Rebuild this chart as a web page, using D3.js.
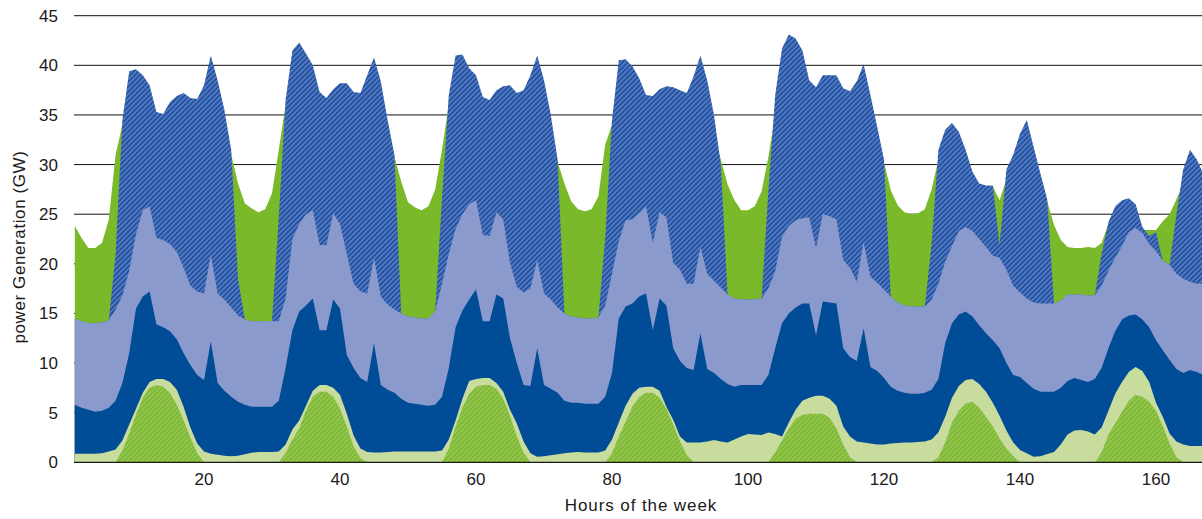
<!DOCTYPE html>
<html>
<head>
<meta charset="utf-8">
<script src="https://cdn.jsdelivr.net/npm/d3@7"></script>
<style>
  body { margin: 0; background: #fff; }
  text { font-family: "Liberation Sans", Arial, sans-serif; fill: #1a1a1a; }
</style>
</head>
<body>
<div id="grafico"></div>
<script>
// Valores, una fila por dia (24 horas)
// Todos son el borde superior de cada capa (GW), no incrementos

// Capa verde palida (abajo del todo)
const lightGreenTop = [
  0.85, 0.85, 0.85, 0.85, 0.9, 1.1, 1.3, 2.2, 3.8, 5.4, 7.0, 8.1, 8.4, 8.4, 8.1, 7.3, 5.6, 3.5, 1.9, 1.1, 0.85, 0.75, 0.65, 0.6,
  0.65, 0.8, 0.95, 1.05, 1.05, 1.05, 1.1, 1.8, 3.3, 4.2, 5.7, 7.2, 7.8, 7.8, 7.5, 6.8, 4.9, 2.7, 1.4, 1.05, 1.0, 1.0, 1.05, 1.1,
  1.1, 1.1, 1.1, 1.1, 1.1, 1.1, 1.2, 2.3, 4.2, 6.4, 8.2, 8.4, 8.5, 8.5, 8.0, 7.1, 5.3, 3.9, 2.1, 0.9, 0.57, 0.6, 0.7, 0.8,
  0.9, 1.0, 1.05, 1.0, 1.0, 1.0, 1.2, 2.3, 4.0, 5.7, 6.9, 7.5, 7.6, 7.6, 7.2, 5.6, 4.3, 2.6, 2.0, 2.0, 2.0, 2.1, 2.25, 2.1,
  2.0, 2.3, 2.6, 2.85, 2.8, 2.75, 3.0, 2.85, 2.6, 4.0, 5.3, 6.2, 6.5, 6.7, 6.7, 6.4, 5.7, 3.6, 2.6, 2.1, 2.0, 1.9, 1.8, 1.8,
  1.9, 1.95, 2.0, 2.0, 2.05, 2.1, 2.3, 3.0, 4.6, 6.5, 7.7, 8.3, 8.4, 7.9, 7.1, 6.0, 4.7, 3.2, 2.0, 1.24, 0.9, 0.55, 0.6, 0.84,
  1.05, 1.8, 2.8, 3.2, 3.25, 3.1, 2.8, 3.5, 5.2, 6.9, 8.1, 9.1, 9.6, 9.2, 8.1, 6.0, 4.6, 2.9, 2.1, 1.8, 1.65, 1.65, 1.65, 1.65
];

// Solar (rayado verde, se pinta encima de la capa palida)
const solarTop = [
  0, 0, 0, 0, 0, 0, 0, 1.2, 2.9, 4.8, 6.5, 7.5, 7.8, 7.6, 7.0, 5.8, 4.2, 2.5, 0.9, 0, 0, 0, 0, 0,
  0, 0, 0, 0, 0, 0, 0, 0.9, 2.3, 3.4, 5.2, 6.6, 7.1, 7.1, 6.6, 5.4, 3.6, 1.6, 0.4, 0, 0, 0, 0, 0,
  0, 0, 0, 0, 0, 0, 0, 1.4, 3.6, 5.5, 6.9, 7.6, 7.8, 7.8, 7.4, 6.4, 4.7, 2.6, 1.0, 0, 0, 0, 0, 0,
  0, 0, 0, 0, 0, 0, 0, 0.9, 2.6, 4.1, 5.6, 6.6, 7.0, 7.0, 6.5, 5.4, 3.8, 2.1, 0.7, 0, 0, 0, 0, 0,
  0, 0, 0, 0, 0, 0, 0, 1.0, 2.2, 3.4, 4.4, 4.8, 4.9, 4.9, 4.9, 4.5, 3.4, 1.8, 0.5, 0, 0, 0, 0, 0,
  0, 0, 0, 0, 0, 0, 0, 0.5, 2.0, 4.0, 5.2, 5.9, 6.1, 5.5, 4.6, 3.6, 2.4, 1.4, 0.6, 0, 0, 0, 0, 0,
  0, 0, 0, 0, 0, 0, 0, 1.0, 2.8, 3.9, 5.1, 6.2, 6.8, 6.6, 6.1, 5.2, 3.6, 1.9, 0.5, 0, 0, 0, 0, 0
];

// Azul oscuro
const darkBlueTop = [
  5.8, 5.5, 5.3, 5.1, 5.2, 5.5, 6.2, 8.0, 11.0, 15.5, 16.7, 17.2, 13.9, 13.6, 13.2, 12.4, 11.0, 9.8, 8.8, 8.3, 12.2, 8.0, 7.2, 6.6,
  6.1, 5.8, 5.6, 5.6, 5.6, 5.6, 6.2, 9.5, 13.3, 15.2, 15.8, 16.5, 13.3, 13.3, 16.4, 15.5, 10.8, 9.5, 8.5, 8.1, 12.0, 7.8, 7.3, 7.0,
  6.4, 6.0, 5.9, 5.8, 5.7, 5.8, 6.6, 9.5, 13.6, 15.3, 16.4, 17.4, 14.2, 14.2, 16.9, 16.5, 12.5, 10.0, 7.8, 7.7, 11.5, 7.8, 7.4, 7.0,
  6.2, 6.0, 6.0, 5.9, 5.9, 5.9, 6.6, 9.0, 14.5, 15.7, 16.0, 16.7, 17.0, 13.3, 16.5, 15.8, 11.5, 10.2, 9.5, 9.3, 13.0, 9.4, 9.0, 8.4,
  7.9, 7.6, 7.8, 7.8, 7.8, 7.8, 8.8, 11.5, 14.0, 15.0, 15.6, 16.0, 16.0, 12.8, 16.2, 16.1, 16.0, 11.5, 10.6, 10.2, 13.5, 9.6, 9.2, 8.5,
  7.6, 7.2, 7.0, 6.9, 6.9, 7.0, 7.3, 8.4, 12.0, 14.0, 14.9, 15.2, 14.7, 13.8, 13.0, 12.3, 11.5, 10.0, 8.8, 8.6, 8.0, 7.4, 7.1, 7.1,
  7.1, 7.5, 8.2, 8.5, 8.3, 8.1, 8.4, 9.5, 11.5, 13.2, 14.4, 14.8, 14.9, 14.4, 13.6, 12.3, 11.3, 10.3, 9.4, 9.0, 9.3, 9.1, 8.8, 8.8
];

// Lavanda
const lavenderTop = [
  14.5, 14.2, 14.0, 14.0, 14.1, 14.3, 15.4, 16.8, 19.3, 23.0, 25.4, 25.8, 22.6, 22.4, 22.0, 21.2, 19.6, 17.8, 17.2, 17.0, 20.9, 17.0, 16.4, 15.6,
  14.8, 14.4, 14.2, 14.2, 14.2, 14.2, 14.2, 16.5, 22.5, 24.0, 25.0, 25.4, 21.9, 21.9, 25.1, 24.0, 21.0, 18.0, 17.2, 17.0, 20.6, 16.7, 15.9, 15.4,
  15.0, 14.7, 14.6, 14.5, 14.5, 15.2, 18.0, 21.0, 23.5, 25.0, 26.0, 26.4, 22.9, 22.8, 25.2, 24.5, 20.1, 17.7, 17.1, 17.5, 20.4, 17.0, 16.4, 15.6,
  15.0, 14.7, 14.6, 14.5, 14.5, 14.6, 15.8, 19.0, 22.3, 24.4, 24.5, 25.1, 25.8, 22.1, 25.2, 24.7, 20.1, 19.4, 18.0, 18.0, 21.7, 19.0, 18.3, 17.6,
  16.9, 16.5, 16.4, 16.4, 16.4, 16.5, 17.5, 19.3, 22.7, 23.8, 24.4, 24.6, 24.7, 21.6, 25.0, 24.8, 24.5, 20.4, 19.6, 18.2, 22.2, 18.7, 18.1, 17.4,
  16.7, 16.1, 15.8, 15.7, 15.7, 15.7, 16.4, 18.0, 20.2, 21.8, 23.3, 23.7, 23.3, 22.5, 21.7, 20.8, 20.6, 19.4, 17.8, 17.1, 16.5, 16.1, 16.0, 16.0,
  16.0, 16.3, 16.9, 16.9, 16.9, 16.8, 16.8, 17.8, 19.3, 20.6, 21.8, 23.2, 23.6, 23.1, 22.0, 21.3, 20.3, 19.9, 19.0, 18.5, 18.2, 18.0, 18.0, 18.0
];

// Verde intenso (solo se ve por la noche, el rayado azul lo tapa de dia)
const greenTop = [
  23.8, 22.6, 21.6, 21.6, 22.1, 24.5, 31.0, 34.0, 35, 35, 35, 34, 33, 33, 33, 33, 33, 33, 33, 34, 35, 35, 33, 31.0,
  28.1, 26.1, 25.6, 25.2, 25.5, 27.1, 31.5, 36.0, 36, 36, 36, 35, 34, 34, 34, 34, 34, 34, 34, 34, 34, 34, 33, 30.8,
  28.3, 26.2, 25.7, 25.4, 25.8, 27.5, 31.5, 36.0, 36, 36, 36, 35, 34, 34, 34, 34, 34, 34, 34, 34, 34, 34, 33, 30.3,
  28.1, 26.3, 25.5, 25.3, 25.5, 26.8, 32.0, 34.0, 35, 35, 35, 35, 34, 34, 34, 34, 34, 34, 34, 34, 34, 34, 33, 30.5,
  28.0, 26.4, 25.4, 25.4, 25.8, 27.3, 30.8, 35, 36, 36, 36, 35, 35, 35, 35, 35, 35, 35, 35, 35, 35, 34, 32.5, 30.2,
  27.4, 25.9, 25.2, 25.0, 25.1, 25.5, 27.5, 30.5, 31, 31, 30, 29, 28, 27.5, 27.5, 27.8, 26.4, 28.5, 29, 29, 29, 28.5, 27.5, 26.3,
  23.9, 22.4, 21.7, 21.6, 21.6, 21.7, 21.6, 22.1, 24.0, 25.0, 25, 25, 24.5, 23.4, 23.4, 23.4, 24.3, 25.0, 26.5, 28, 29, 29, 28, 27
];

// Azul rayado (se pinta encima del verde)
const hatchTop = [
  14.5, 14.2, 14.0, 14.0, 14.1, 14.3, 21.0, 34.5, 39.4, 39.6, 39.0, 38.0, 35.3, 35.1, 36.3, 36.9, 37.2, 36.7, 36.6, 38.0, 41.0, 38.5, 35.5, 31.5,
  18.5, 14.4, 14.2, 14.2, 14.2, 14.2, 24.7, 36.5, 41.5, 42.3, 41.2, 40.0, 37.3, 36.7, 37.6, 38.2, 38.2, 37.3, 37.2, 39.0, 40.8, 38.4, 34.5, 31.0,
  15.0, 14.7, 14.6, 14.5, 14.5, 15.2, 26.6, 37.0, 41.0, 41.1, 39.7, 39.0, 36.8, 36.5, 37.5, 37.9, 38.0, 37.2, 37.5, 39.0, 41.0, 38.5, 35.0, 30.5,
  15.0, 14.7, 14.6, 14.5, 14.5, 14.6, 22.6, 34.5, 40.5, 40.6, 39.9, 38.7, 37.0, 36.9, 37.6, 37.9, 37.8, 37.5, 37.2, 38.9, 41.0, 38.5, 35.0, 30.0,
  16.9, 16.5, 16.4, 16.4, 16.4, 16.5, 27.4, 37.0, 41.7, 43.1, 42.7, 41.5, 38.5, 37.8, 39.0, 39.0, 39.0, 37.7, 37.4, 38.4, 40.1, 37.0, 33.8, 30.5,
  16.7, 16.1, 15.8, 15.7, 15.7, 15.7, 22.0, 31.5, 33.5, 34.2, 33.3, 31.5, 29.3, 28.1, 27.9, 27.9, 21.9, 29.5, 31.0, 33.1, 34.5, 31.8, 29.1, 26.5,
  16.0, 16.3, 16.9, 16.9, 16.9, 16.8, 16.8, 21.0, 24.2, 25.8, 26.4, 26.6, 26.0, 23.7, 22.8, 23.2, 20.3, 19.9, 25.0, 29.5, 31.5, 30.5, 29.0, 27.5
];

const yTicks = [0, 5, 10, 15, 20, 25, 30, 35, 40, 45];
const xTicks = [20, 40, 60, 80, 100, 120, 140, 160];

const hours = d3.range(1, 169);

function drawChart() {
  const width = 1202;
  const height = 519;
  const left = 74;

  const svg = d3.select('#grafico')
    .append('svg')
    .attr('width', width)
    .attr('height', height);

  // 6.8 px por hora, la semana se sale un poco por la derecha
  const x = d3.scaleLinear()
    .domain([0, 168])
    .range([68, 68 + 168 * 6.8]);

  const y = d3.scaleLinear()
    .domain([0, 45])
    .range([462.3, 15.7]);

  // Tramas rayadas
  const defs = svg.append('defs');
  function hatch(id, base, stripe, sw) {
    const p = defs.append('pattern')
      .attr('id', id)
      .attr('patternUnits', 'userSpaceOnUse')
      .attr('width', 5)
      .attr('height', 5);
    p.append('rect').attr('width', 5).attr('height', 5).attr('fill', base);
    p.append('path')
      .attr('d', 'M-1,1 l2,-2 M0,5 l5,-5 M4,6 l2,-2')
      .attr('stroke', stripe)
      .attr('stroke-width', sw);
  }
  hatch('rayado-azul', '#5077c0', '#1d4c9a', 1.5);
  hatch('rayado-verde', '#90c64a', '#7db334', 1.3);

  // Lineas de la rejilla (sin redondear, asi unas salen mas grises que otras)
  svg.append('g')
    .selectAll('line')
    .data(yTicks.filter(d => d > 0))
    .enter()
    .append('line')
    .attr('x1', left)
    .attr('x2', width)
    .attr('y1', d => y(d))
    .attr('y2', d => y(d))
    .attr('stroke', '#111')
    .attr('stroke-width', 1);

  const rows = hours.map((h, i) => ({
    h: h,
    l1: lightGreenTop[i],
    s: solarTop[i],
    l2: darkBlueTop[i],
    l3: lavenderTop[i],
    g: greenTop[i],
    hb: hatchTop[i]
  }));

  // Cada capa va de 0 a su borde superior, se pintan de atras hacia delante
  const layers = [
    { key: 'g', fill: '#7ab929' },
    { key: 'hb', fill: 'url(#rayado-azul)' },
    { key: 'l3', fill: '#8a9acd' },
    { key: 'l2', fill: '#004c97' },
    { key: 'l1', fill: '#c7dc9d' },
    { key: 's', fill: 'url(#rayado-verde)' }
  ];

  const area = key => d3.area()
    .x(d => x(d.h))
    .y0(y(0))
    .y1(d => y(d[key]));

  svg.append('g')
    .selectAll('path')
    .data(layers)
    .enter()
    .append('path')
    .attr('d', d => area(d.key)(rows))
    .attr('fill', d => d.fill);

  // Eje x (solo la linea base y las etiquetas)
  svg.append('line')
    .attr('x1', left)
    .attr('x2', width)
    .attr('y1', y(0))
    .attr('y2', y(0))
    .attr('stroke', '#1a1a1a')
    .attr('stroke-width', 1.3);

  svg.append('g')
    .selectAll('text')
    .data(xTicks)
    .enter()
    .append('text')
    .attr('x', d => x(d))
    .attr('y', 485)
    .attr('text-anchor', 'middle')
    .style('font-size', '17px')
    .text(d => d);

  svg.append('g')
    .selectAll('text')
    .data(yTicks)
    .enter()
    .append('text')
    .attr('x', 58)
    .attr('y', d => y(d))
    .attr('dy', '0.35em')
    .attr('text-anchor', 'end')
    .style('font-size', '17px')
    .text(d => d);

  svg.append('text')
    .attr('x', 641)
    .attr('y', 510.5)
    .attr('text-anchor', 'middle')
    .style('font-size', '17px')
    .style('letter-spacing', '0.9px')
    .text('Hours of the week');

  svg.append('text')
    .attr('transform', 'translate(25,247) rotate(-90)')
    .attr('text-anchor', 'middle')
    .style('font-size', '17px')
    .style('letter-spacing', '0.6px')
    .text('power Generation (GW)');
}

drawChart();
</script>
</body>
</html>
